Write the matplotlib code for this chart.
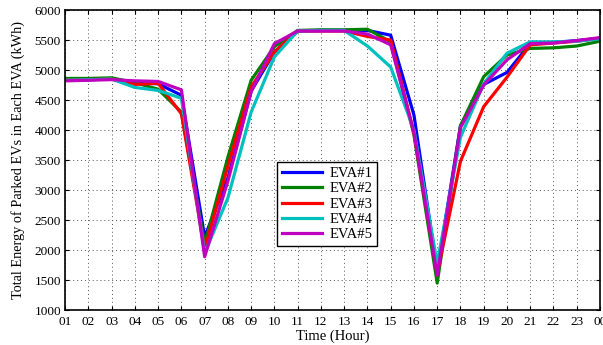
import matplotlib.pyplot as plt
import numpy as np

plt.rcParams['font.family'] = ['Liberation Serif', 'DejaVu Serif']

hours = np.arange(1, 25)
hour_labels = ['%02d' % h for h in range(1, 24)] + ['00']

eva1 = [4830, 4840, 4850, 4790, 4770, 4580, 2220, 3200, 4650, 5300, 5650, 5660, 5660, 5660, 5580, 4250,
        1650, 4070, 4760, 4960, 5440, 5460, 5490, 5530]
eva2 = [4860, 4860, 4870, 4790, 4680, 4300, 2100, 3550, 4830, 5390, 5660, 5670, 5670, 5680, 5470, 3920,
        1450, 4070, 4890, 5250, 5360, 5370, 5400, 5480]
eva3 = [4830, 4840, 4850, 4760, 4780, 4270, 2010, 3400, 4720, 5300, 5650, 5650, 5650, 5560, 5500, 3950,
        1600, 3480, 4390, 4880, 5420, 5450, 5480, 5530]
eva4 = [4830, 4840, 4850, 4710, 4660, 4530, 1950, 2870, 4300, 5220, 5650, 5660, 5660, 5400, 5050, 4000,
        1780, 3880, 4770, 5280, 5470, 5470, 5480, 5520]
eva5 = [4820, 4830, 4840, 4820, 4810, 4670, 1890, 3150, 4640, 5440, 5650, 5650, 5650, 5600, 5420, 3960,
        1580, 4040, 4750, 5170, 5440, 5450, 5490, 5540]

series = [eva1, eva2, eva3, eva4, eva5]
names = ['EVA#1', 'EVA#2', 'EVA#3', 'EVA#4', 'EVA#5']
colors = ['#0000ff', '#008000', '#ff0000', '#00bfbf', '#bf00bf']

fig, ax = plt.subplots(figsize=(6.03, 3.45), dpi=100)
fig.subplots_adjust(left=0.108, right=0.995, top=0.971, bottom=0.101)

for y, name, c in zip(series, names, colors):
    ax.plot(hours, y, color=c, lw=2.3, label=name)

ax.set_xlim(1, 24)
ax.set_ylim(1000, 6000)
ax.set_xticks(hours)
ax.set_xticklabels(hour_labels)
ax.set_yticks(np.arange(1000, 6001, 500))
ax.tick_params(direction='in', top=True, right=True, labelsize=9.5, length=3)
ax.tick_params(axis='x', pad=4)
ax.tick_params(axis='y', pad=3)
ax.grid(True, linestyle=(0, (1, 3)), color='#555555', lw=0.7)
for s in ax.spines.values():
    s.set_linewidth(1.2)

ax.set_xlabel('Time (Hour)', fontsize=10.5, labelpad=1)
ax.set_ylabel('Total Energy of Parked EVs in Each EVA (kWh)', fontsize=10.3, labelpad=7)

leg = ax.legend(loc='lower left', bbox_to_anchor=(0.383, 0.19), fontsize=10.5, fancybox=False,
                framealpha=1, edgecolor='k', handlelength=2.8, borderpad=0.3, labelspacing=0.15,
                handletextpad=0.5)
leg.get_frame().set_linewidth(1.0)

plt.savefig('out.png', dpi=100)
